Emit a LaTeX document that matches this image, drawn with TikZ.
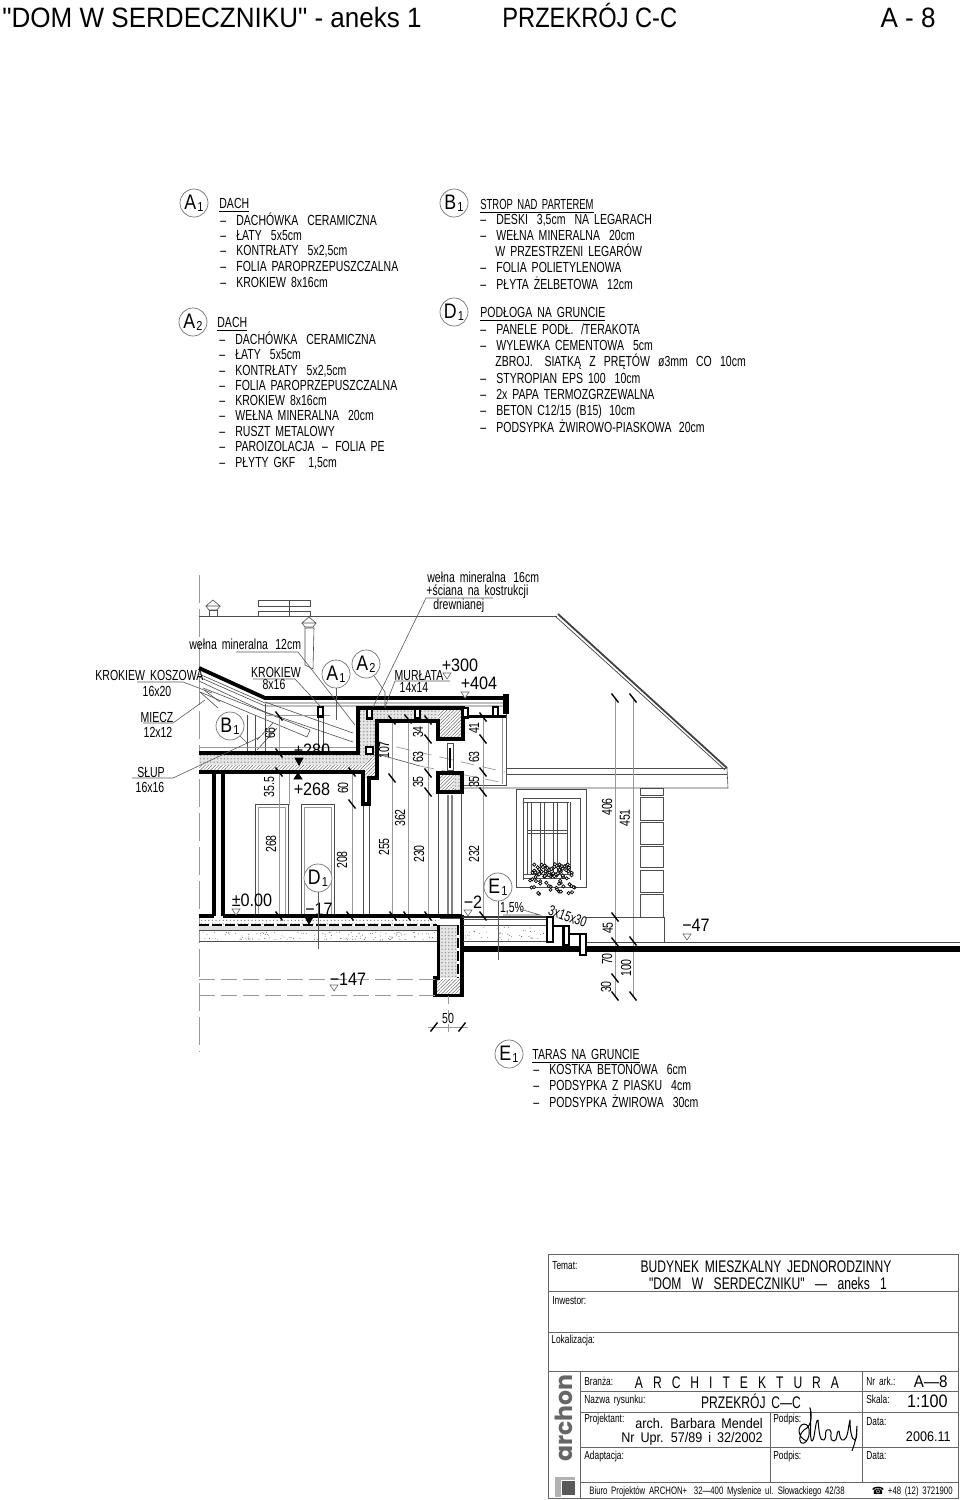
\documentclass[tikz,border=0pt]{standalone}
\usepackage{fontspec}
\setmainfont{Liberation Sans}
\newfontfamily\hdf[FakeStretch=0.93]{Liberation Sans}
\newfontfamily\hdg[FakeStretch=0.845]{Liberation Sans}
\newfontfamily\cadf[FakeStretch=0.72,WordSpace=1.7]{Liberation Sans}
\newfontfamily\cadw[FakeStretch=0.9,WordSpace=1.7]{Liberation Sans}
\newfontfamily\dejav{DejaVu Sans}
\newfontfamily\logof{Poppins}
\usetikzlibrary{patterns.meta,calc}
\newcounter{tn}
\newcommand{\T}[4][]{\stepcounter{tn}\node[lab,#1] (t\thetn) at (#2,#3) {#4};}
\newcommand{\Sub}[2]{#1{\fontsize{6.5}{6.5}\selectfont\raisebox{-1pt}{\hspace{.6pt}#2}}}
\newcommand{\D}{\makebox[8pt][l]{–}}
\newcommand{\fa}{\fontsize{7.3}{9}\cadf}
\newcommand{\fb}{\fontsize{9}{11}\cadw}
\newcommand{\fw}{\fontsize{7}{9}\cadw}
\newcommand{\ft}{\fontsize{8.4}{10}\cadf}
\newcommand{\fs}{\fontsize{5.8}{6}\cadf\color{black!75}}
\tikzset{
 lab/.style={anchor=base west,inner sep=0pt,font=\fa,text=black,yshift=-2.6pt},
 lc/.style={anchor=base},
 rot/.style={anchor=center,yshift=2.6pt,rotate=90},
 big/.style={anchor=base,font=\fb,yshift=-.5pt},
 wide/.style={anchor=base east,font=\fw},
 tit/.style={anchor=base,font=\ft,yshift=-.4pt},
 sm/.style={font=\fs,yshift=.6pt},
 circ/.style={circle,draw=black!55,line width=.35pt,minimum size=14pt,inner sep=0pt,font=\fontsize{10.5}{11}\hdg,fill=white},
 thin line/.style={draw=black!70,line width=.3pt},
 dimln/.style={draw=black!40,line width=.35pt},
 lead/.style={draw=black!65,line width=.3pt},
 heavy/.style={draw=black,line width=1.9pt,line join=miter},
 mid/.style={draw=black,line width=1.2pt,line join=miter},
 ticks/.style={draw=black,line width=.7pt},
 grid line/.style={draw=black!60,line width=.5pt},
 hon/.style={preaction={fill=black!10},pattern={Dots[radius=.4pt,distance=1.7pt]},pattern color=black!40},
 hatchy/.style={preaction={fill=white},pattern={Lines[angle=45,distance=1.2pt,line width=.22pt]},pattern color=black!60},
 level/.style={draw=black!60,line width=.3pt,fill=white},
 blackt/.style={draw=black,fill=black},
}
\newcommand{\tk}[2]{\draw[ticks] (#1,#2) ++(-3.5,-4.5) -- ++(7,9);}
\begin{document}
\begin{tikzpicture}[x=0.5pt,y=-0.5pt]
\useasboundingbox (0,0) rectangle (960,1500);
% ---------- header
\node[anchor=base west,inner sep=0pt,font=\fontsize{14}{15}\hdf] (h1) at (2,27) {"DOM W SERDECZNIKU" - aneks 1};
\node[anchor=base west,inner sep=0pt,font=\fontsize{14}{15}\hdg] (h2) at (502,27) {PRZEKRÓJ C-C};
\node[anchor=base east,inner sep=0pt,font=\fontsize{14}{15}\hdf] (h3) at (936,27) {A - 8};
% ---------- legends
\node[circ] (la1) at (194,203) {\Sub{A}{1}};
\T{219}{203}{\underline{DACH}}
\T{220}{220}{\D DACHÓWKA \;CERAMICZNA}
\T{220}{235}{\D ŁATY \;5x5cm}
\T{220}{250}{\D KONTRŁATY \;5x2,5cm}
\T{220}{266}{\D FOLIA PAROPRZEPUSZCZALNA}
\T{220}{282}{\D KROKIEW 8x16cm}
\node[circ] (la2) at (193,322) {\Sub{A}{2}};
\T{217}{322}{\underline{DACH}}
\T{219}{339}{\D DACHÓWKA \;CERAMICZNA}
\T{219}{354}{\D ŁATY \;5x5cm}
\T{219}{370}{\D KONTRŁATY \;5x2,5cm}
\T{219}{385}{\D FOLIA PAROPRZEPUSZCZALNA}
\T{219}{400}{\D KROKIEW 8x16cm}
\T{219}{415}{\D WEŁNA MINERALNA \;20cm}
\T{219}{431}{\D RUSZT METALOWY}
\T{219}{446}{\D PAROIZOLACJA \,– \,FOLIA PE}
\T{219}{462}{\D PŁYTY GKF \;\;1,5cm}
\node[circ] (lb1) at (454,203) {\Sub{B}{1}};
\T{480}{204}{\scalebox{.9}[1]{\underline{STROP NAD PARTEREM}}}
\T{480}{219}{\D DESKI \;3,5cm \;NA LEGARACH}
\T{480}{235}{\D WEŁNA MINERALNA \;20cm}
\T{495}{251}{W PRZESTRZENI LEGARÓW}
\T{480}{267}{\D FOLIA POLIETYLENOWA}
\T{480}{284}{\D PŁYTA ŻELBETOWA \;12cm}
\node[circ] (ld1) at (454,312) {\Sub{D}{1}};
\T{480}{312}{\underline{PODŁOGA NA GRUNCIE}}
\T{480}{329}{\D PANELE PODŁ. \,/TERAKOTA}
\T{480}{345}{\D WYLEWKA CEMENTOWA \;5cm}
\T{495}{361}{ZBROJ.\hspace{3.4pt} SIATKĄ\hspace{1.6pt} Z\hspace{1.6pt} PRĘTÓW\hspace{1.6pt} ø3mm\hspace{1.6pt} CO\hspace{1.6pt} 10cm}
\T{480}{378}{\D STYROPIAN EPS 100 \;10cm}
\T{480}{394}{\D 2x PAPA TERMOZGRZEWALNA}
\T{480}{410}{\D BETON C12/15 (B15) \,10cm}
\T{480}{427}{\D PODSYPKA ŻWIROWO-PIASKOWA \,20cm}
\node[circ] (le1) at (509,1054) {\Sub{E}{1}};
\T{532}{1054}{\underline{TARAS NA GRUNCIE}}
\T{533}{1069}{\D KOSTKA BETONOWA \;6cm}
\T{533}{1085}{\D PODSYPKA Z PIASKU \;4cm}
\T{533}{1102}{\D PODSYPKA ŻWIROWA \;30cm}
% ---------- section: axis and far geometry
\draw[dimln,dash pattern=on 14pt off 3pt] (199.5,575) -- (199.5,1052);
\draw[thin line] (199,616) -- (557,616);
% chimney and vents
\draw[thin line] (258,600) rectangle (310,606);
\draw[thin line] (258,611) rectangle (310,616);
\draw[thin line] (289,600) -- (289,616);
\foreach \vx/\vy in {213/600,309/617}{
 \draw[thin line,fill=white] (\vx-7,\vy+6) -- (\vx,\vy) -- (\vx+7,\vy+6) -- cycle;
 \draw[thin line] (\vx-7,\vy+6) -- (\vx-4,\vy+10) -- (\vx+4,\vy+10) -- (\vx+7,\vy+6);
}
\draw[thin line] (209,610) rectangle (217,616);
\draw[thin line] (305,628) -- (305,665) -- (313,669) -- (314,628) -- cycle;
% roof hip
\draw[draw=black!75,line width=.35pt] (555,616) -- (725,770);
\draw[draw=black!75,line width=.9pt] (558,614) -- (727,768);
\draw[thin line] (506,768) -- (726,768);
\draw[thin line] (506,774) -- (727,774);
\draw[thin line] (727,768) -- (728,788) -- (463,788);
\draw[thin line] (506,714) -- (506,785) -- (463,785);
\draw[dimln] (502,716) -- (502,784);
% roof
\draw[thin line] (199,674) -- (265,703) -- (505,703);
\draw[thin line] (199,677) -- (265,706) -- (505,706);
\draw[thin line] (199,681) -- (265,712) -- (353,742);
\draw[thin line] (265,702) -- (353,733);
\draw[thin line] (200,692) -- (307,737) -- (310,730) -- (203,688);
\draw[thin line] (200,692) -- (218,708);
\draw[thin line] (204,690) -- (220,702);
% dashed rafter projection
\draw[dimln,dash pattern=on 7pt off 4pt] (375,742) -- (505,772);
\draw[dimln,dash pattern=on 7pt off 4pt] (420,766) -- (505,783);
\draw[thin line] (377,754) -- (420,766);
% attic lines
\draw[thin line] (247,715) -- (247,752);
\draw[thin line] (255,715) -- (255,752);
\draw[thin line] (257,740) -- (273,723);
\draw[thin line] (257,750) -- (277,728);
\draw[thin line] (265,704) -- (265,752);
\draw[dimln] (199,747) -- (358,747);
\draw[dimln] (265,715) -- (330,715);
\draw[thin line] (318,717) -- (318,752);
\draw[thin line] (323,717) -- (323,752);
\T[big]{312}{750}{+280}
% ---------- doors, walls under the slab
\draw[thin line] (255,916) -- (255,804) -- (288,804) -- (288,916);
\draw[dimln] (258,916) -- (258,807) -- (285,807) -- (285,916);
\draw[thin line] (301,916) -- (301,804) -- (334,804) -- (334,916);
\draw[dimln] (304,916) -- (304,807) -- (331,807) -- (331,916);
\draw[dimln] (289,772) -- (289,805);
\draw[thin line] (363,804) -- (363,916);
\draw[thin line] (369,804) -- (369,916);
\draw[thin line] (438,792) -- (438,916);
\draw[thin line] (461.5,792) -- (461.5,916);
\draw[line width=1pt,draw=black!50] (448,795) -- (448,916);
\draw[line width=1pt,draw=black!50] (452,795) -- (452,916);
% ---------- dimension lines
\foreach \dx/\da/\db in {279/716/916,352/772/916,392/720/916,408/719/916,428/720/916,483/717/916,615/698/996,633/698/996}{
 \draw[dimln] (\dx,\da) -- (\dx,\db);
}
% ---------- slab, insulation
\path[hon] (199,753) -- (358,753) -- (358,708) -- (438,708) -- (438,721) -- (377,721) -- (377,753) -- (363,772) -- (199,772) -- cycle;
\path[hatchy] (199,765) -- (363,765) -- (377,753) -- (377,778) -- (369,778) -- (363,778) -- (363,772) -- (199,772) -- cycle;
\path[hatchy] (438,708) rectangle (461,739);
\path[hatchy] (438,773) rectangle (454,792);
\path[hon] (454,773) -- (463,773) -- (463,792) -- (454,792) -- cycle;
\draw[heavy] (199,753) -- (358,753) -- (358,708) -- (463,708) -- (463,739) -- (438,739) -- (438,721) -- (377,721) -- (377,778) -- (369,778) -- (369,804) -- (363,804) -- (363,772) -- (199,772);
\draw[heavy] (438,773) rectangle (462,792);
% small joists and box
\foreach \bx/\by/\bw in {318/707/5,367/709/5,415/709/5,463/708/5,493/707/5}{
 \draw[mid,fill=white] (\bx,\by) rectangle (\bx+\bw,\by+9.5);
}
\draw[mid,fill=white] (366,747) rectangle (373,754);
\draw[mid] (468,716.5) -- (493,716.5);
\draw[mid] (498,716.5) -- (506,716.5);
% window slit between lintels
\draw[thin line] (447,743) rectangle (453,770);
\draw[draw=black,line width=1pt] (450,748) -- (450,768);
% roof thick
\draw[heavy] (199,668) -- (265,698) -- (505,698);
\draw[draw=black,line width=2.6pt] (506,694) -- (506,714);
% left column
\draw[heavy] (214,772) -- (214,916);
\draw[heavy] (223,772) -- (223,916);
% ---------- floor
\path[pattern={Dots[radius=.35pt,distance=1.8pt]},pattern color=black!50] (199,917) rectangle (439,925);
\path[fill=black!12] (199,926) rectangle (437,930);
\draw[thin line] (199,930.5) -- (437,930.5);
\draw[thin line] (199,941) -- (437,941);
\pgfmathsetseed{17}
\foreach \i in {1,...,130}{
 \pgfmathsetmacro\rx{201+234*rnd}\pgfmathsetmacro\ry{932+8*rnd}
 \fill[black!70] (\rx,\ry) circle[radius=.45];
}
\draw[draw=black,line width=1pt,dash pattern=on 5pt off 1.5pt] (199,924.5) -- (437,924.5);
\draw[heavy] (199,916) -- (214,916);
\draw[heavy] (223,916) -- (462,916);
% foundation
\path[hon] (440,925) rectangle (457,978);
\path[hatchy] (437,979) rectangle (460,994);
\draw[thin line] (440,918) -- (461,918);
\draw[thin line] (440,925) -- (458,925);
\draw[heavy] (438.5,925) -- (438.5,978) -- (435,978) -- (435,995.5) -- (462,995.5) -- (462,915);
\draw[draw=black,line width=1pt,dash pattern=on 5pt off 1.5pt] (458,925) -- (458,978);
\draw[dimln,dash pattern=on 8pt off 3pt] (199,979) -- (435,979);
\draw[dimln,dash pattern=on 8pt off 3pt] (199,995) -- (435,995);
\draw[dimln,dash pattern=on 4pt off 3pt] (448,996) -- (448,1032);
\draw[dimln] (428,1027) -- (468,1027);
\foreach \tx in {434,462}{\draw[ticks] (\tx,1027) ++(-3.5,4.5) -- ++(7,-9);}
% ---------- terrace
\draw[thin line] (463,919) -- (547,919);
\draw[thin line] (463,925) -- (547,925);
\draw[thin line] (463,941) -- (547,941);
\pgfmathsetseed{23}
\foreach \i in {1,...,45}{
 \pgfmathsetmacro\rx{465+80*rnd}\pgfmathsetmacro\ry{927+13*rnd}
 \fill[black!70] (\rx,\ry) circle[radius=.45];
}
\draw[draw=black,line width=3pt] (462,948.5) -- (960,948.5);
\draw[draw=black!80,line width=1pt] (462,916.5) -- (547,916.5);
\draw[thin line] (586,942) -- (960,942);
\draw[mid] (553,926) -- (563,926);
\draw[mid] (569,934) -- (579,934);
\draw[mid,fill=white] (547,917) rectangle (553,942);
\draw[mid,fill=white] (563.5,926) rectangle (569,945);
\draw[mid,fill=white] (580,934) rectangle (586,955);
\draw[thin line] (586,917) -- (664,917) -- (664,942);
% ---------- window
\draw[thin line] (516,887) -- (516,789) -- (586,789) -- (586,887) -- cycle;
\draw[thin line] (523,880) -- (523,798) -- (580,798) -- (580,880);
\draw[thin line] (523,802) -- (569,802);
\foreach \wx in {527,531,540,544,553,557,567,570}{
 \draw[thin line] (\wx,802) -- (\wx,874);
}
\draw[thin line] (527,830) -- (567,830);
\draw[thin line] (527,833) -- (567,833);
\draw[thin line] (523,874) -- (570,874);
\draw[thin line] (523,878) -- (570,878);
% flowers
\pgfmathsetseed{5}
\foreach \i in {1,...,55}{
 \pgfmathsetmacro\rx{532+40*rnd}\pgfmathsetmacro\ry{864+13*rnd}
 \draw[draw=black,line width=.35pt,fill=white] (\rx,\ry) circle[radius=1.7];
}
\foreach \i in {1,...,28}{
 \pgfmathsetmacro\rx{528+48*rnd}\pgfmathsetmacro\ry{877+17*rnd}
 \draw[draw=black,line width=.35pt,fill=white] (\rx,\ry) circle[radius=1.6];
}
% quoins
\foreach \qa/\qb in {788/795,797/820,822/844,846/867,870/892,894/917}{
 \draw[thin line] (640,\qa) rectangle (663,\qb);
}
% ---------- ticks
\foreach \tx/\ty in {279/716,279/753,279/772,279/916,352/772,352/804,350/916,392/720,392/778,393/916,408/719,407/916,428/720,428/739,428/773,428/792,428/916,483/717,483/739,483/772,483/792,483/916,615/698,633/698,615/917,615/942,633/941,615/978,615/996,633/996}{
 \tk{\tx}{\ty}
}
% ---------- section labels
\T[rot]{270}{733}{66}
\T[rot]{269}{787}{35.5}
\T[rot]{271}{844}{268}
\T[rot]{343}{788}{60}
\T[rot]{342}{860}{208}
\T[rot]{384}{750}{107}
\T[rot]{384}{847}{255}
\T[rot]{400}{818}{362}
\T[rot]{418}{732}{34}
\T[rot]{418}{757}{63}
\T[rot]{418}{782}{35}
\T[rot]{419}{854}{230}
\T[rot]{474}{728}{41}
\T[rot]{474}{757}{63}
\T[rot]{474}{782}{35}
\T[rot]{474}{854}{232}
\T[rot]{607}{807}{406}
\T[rot]{625}{818}{451}
\T[rot]{608}{928}{45}
\T[rot]{607}{959}{70}
\T[rot]{626}{968}{100}
\T[rot]{606}{987}{30}
\T[lc]{448}{1018}{50}
\T[big]{312}{789}{+268}
\T[big]{460}{665}{+300}
\T[big]{479}{683}{+404}
\T[big]{252}{900}{±0.00}
\T[big]{319}{909}{−17}
\T[big]{473}{902}{−2}
\T[big]{348}{979}{−147}
\T[big]{696}{925}{−47}
\T[lc]{512}{907}{1,5\%}
\T[rotate=-20,yshift=2.6pt,anchor=center]{566}{916}{3x15x30}
% level marks
\foreach \lx/\ly in {447/673,465/692,236/909,468/910,334/985,687/934}{
 \draw[level] (\lx-4,\ly) -- (\lx+4,\ly) -- (\lx,\ly+6) -- cycle;
}
\draw[blackt] (295,758) -- (303,758) -- (299,765) -- cycle;
\draw[blackt] (294,779) -- (302,779) -- (298,773) -- cycle;
\draw[blackt] (305,917) -- (313,917) -- (309,924) -- cycle;
% leaders and notes
\T{189}{644}{wełna mineralna \,12cm}
\coordinate (c1a) at (236,652);\coordinate (c1b) at (298,652);\coordinate (c1c) at (355,725);
\draw[lead] (c1a) -- (c1b) -- (c1c);
\T{95}{675}{KROKIEW KOSZOWA}
\T[lc]{157}{691}{16x20}
\draw[lead] (137,682) -- (183,682) -- (212,693);
\T[lc]{157}{717}{MIECZ}
\T[lc]{158}{732}{12x12}
\draw[lead] (143,723) -- (173,723) -- (205,700);
\T[lc]{151}{772}{SŁUP}
\T[lc]{150}{787}{16x16}
\draw[lead] (132,778) -- (173,778) -- (260,737);
\T[lc]{276}{672}{KROKIEW}
\T[lc]{274}{684}{8x16}
\draw[lead] (253,679) -- (295,679) -- (321,707);
\T[lc]{419}{675}{MURŁATA}
\T[lc]{414}{687}{14x14}
\draw[lead] (450,681) -- (395,681) -- (385,707);
\T{427}{577}{wełna mineralna \,16cm}
\T{426}{590}{+ściana na kostrukcji}
\T{433}{604}{drewnianej}
\draw[lead] (493,598) -- (426,598) -- (373,707);
\node[circ] (ca1) at (336,674) {\Sub{A}{1}};
\node[circ] (ca2) at (366,664) {\Sub{A}{2}};
\node[circ] (cb1) at (230,726) {\Sub{B}{1}};
\node[circ] (cd1) at (318,878) {\Sub{D}{1}};
\node[circ] (ce1) at (498,887) {\Sub{E}{1}};
\coordinate (ea1) at (336,720);\coordinate (ea2) at (385,692);\coordinate (ea3) at (385,708);
\coordinate (eb1) at (247,743);\coordinate (ed1) at (318,949);\coordinate (ee1) at (498,960);
\draw[lead] (ca1) -- (ea1);
\draw[lead] (ca2) -- (ea2) -- (ea3);
\draw[lead] (cb1) -- (eb1);
\draw[lead] (cd1) -- (ed1);
\draw[lead] (ce1) -- (ee1);
\draw[lead] (503,915) -- (540,915) -- (520,909);
% ---------- title block
\draw[grid line] (548,1254) rectangle (958,1498);
\draw[grid line] (548,1291) -- (958,1291);
\draw[grid line] (548,1332) -- (958,1332);
\draw[grid line] (548,1371) -- (958,1371);
\draw[grid line] (580,1391) -- (958,1391);
\draw[grid line] (580,1412) -- (958,1412);
\draw[grid line] (580,1447) -- (958,1447);
\draw[grid line] (580,1482) -- (958,1482);
\draw[grid line] (580,1371) -- (580,1498);
\draw[grid line] (770,1412) -- (770,1482);
\draw[grid line] (862,1371) -- (862,1482);
\T[sm]{552}{1265}{Temat:}
\T[sm]{552}{1300}{Inwestor:}
\T[sm]{551}{1339}{Lokalizacja:}
\T[sm]{584}{1381}{Branża:}
\T[sm]{866}{1381}{Nr ark.:}
\T[sm]{584}{1399}{Nazwa rysunku:}
\T[sm]{866}{1399}{Skala:}
\T[sm]{584}{1418}{Projektant:}
\T[sm]{773}{1418}{Podpis:}
\T[sm]{866}{1421}{Data:}
\T[sm]{584}{1455}{Adaptacja:}
\T[sm]{773}{1455}{Podpis:}
\T[sm]{866}{1455}{Data:}
\T[tit]{766}{1266}{BUDYNEK MIESZKALNY JEDNORODZINNY}
\T[tit]{768}{1283}{"DOM \;W \;SERDECZNIKU" \;— \;aneks \;1}
\T[tit]{737}{1382}{A\hspace{5pt}R\hspace{5pt}C\hspace{5pt}H\hspace{5pt}I\hspace{5pt}T\hspace{5pt}E\hspace{5pt}K\hspace{5pt}T\hspace{5pt}U\hspace{5pt}R\hspace{5pt}A}
\T[tit]{751}{1402}{PRZEKRÓJ C—C}
\T[wide,font=\fontsize{8.4}{10}\cadw]{948}{1382}{A—8}
\T[wide,font=\fb]{948}{1402}{1:100}
\T[wide]{763}{1423}{arch. Barbara Mendel}
\T[wide]{763}{1437}{Nr Upr. 57/89 i 32/2002}
\T[wide]{951}{1436}{2006.11}
\node[anchor=base west,inner sep=0pt,font=\fontsize{5.4}{6}\cadf] (foot1) at (589,1494) {Biuro Projektów ARCHON+ \;32—400 Myslenice ul. Słowackiego 42/38};
\node[anchor=base east,inner sep=0pt,font=\fontsize{5.4}{6}\cadf] (foot2) at (953,1494) {{\dejav\fontsize{5}{6}\selectfont ☎} +48 (12) 3721900};
% logo
\node[rotate=90,inner sep=0pt,font=\fontsize{11.8}{13}\logof\bfseries,text=black!60] (logo) at (564,1418) {archon};
\fill[black!30] (555,1477) rectangle (575,1480);
\fill[black!30] (555,1477) rectangle (561,1497);
\fill[black!65] (562,1481) rectangle (575,1495);
% signature
\draw[draw=black,line width=.5pt,line join=round] (807,1441) .. controls (797,1438) and (797,1425) .. (804,1424) .. controls (812,1424) and (810,1441) .. (804,1443) .. controls (798,1445) and (798,1432) .. (807,1428) .. controls (815,1420) and (809,1405) .. (810,1408) .. controls (812,1412) and (809,1441) .. (812,1441) .. controls (815,1440) and (815,1420) .. (818,1420) .. controls (819,1432) and (820,1442) .. (824,1440) .. controls (828,1438) and (822,1428) .. (830,1430) .. controls (833,1432) and (828,1441) .. (834,1441) .. controls (838,1441) and (836,1430) .. (839,1431) .. controls (840,1436) and (840,1441) .. (844,1440) .. controls (848,1438) and (848,1428) .. (850,1420) .. controls (850,1432) and (852,1440) .. (855,1440) .. controls (858,1438) and (856,1430) .. (857,1426) .. controls (857,1438) and (854,1445) .. (852,1451);
\end{tikzpicture}
\end{document}
